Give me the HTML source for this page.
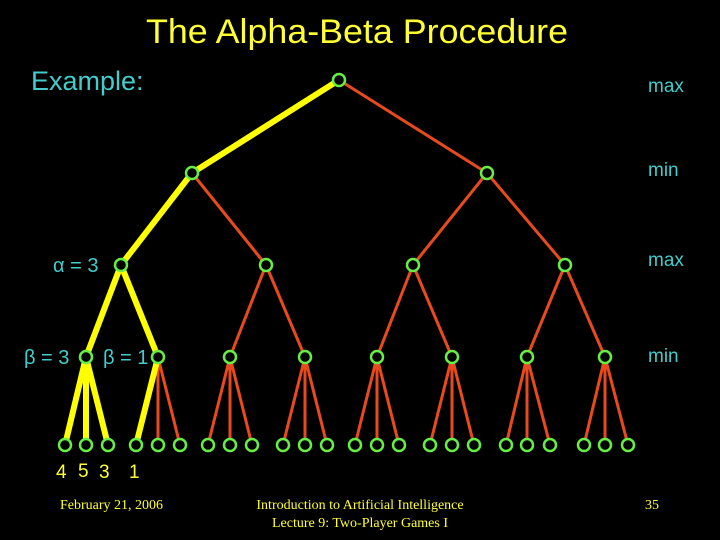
<!DOCTYPE html>
<html><head><meta charset="utf-8"><style>
html,body{margin:0;padding:0;background:#000;width:720px;height:540px;overflow:hidden}
svg{display:block}
text{font-family:"Liberation Sans",sans-serif}
</style></head><body>
<svg width="720" height="540" viewBox="0 0 720 540" xmlns="http://www.w3.org/2000/svg">
<rect width="720" height="540" fill="#000"/>
<text x="357" y="43" fill="#ffff33" font-size="34" text-anchor="middle" textLength="422" lengthAdjust="spacingAndGlyphs">The Alpha-Beta Procedure</text>
<text x="31" y="90" fill="#44cccc" font-size="27">Example:</text>
<g fill="#44cccc" font-size="19">
<text x="648" y="92">max</text>
<text x="648" y="176">min</text>
<text x="648" y="266">max</text>
<text x="648" y="362">min</text>
</g>
<g fill="#44cccc" font-size="20">
<text x="53" y="272">α = 3</text>
<text x="24" y="364">β = 3</text>
<text x="103" y="364">β = 1</text>
</g>
<g fill="#ffff33" font-size="19">
<text x="56" y="478">4</text><text x="78" y="477">5</text><text x="99" y="478">3</text><text x="129" y="478">1</text>
</g>
<g stroke="#e84a1e" stroke-width="3" fill="none">
<line x1="339" y1="80" x2="487" y2="173"/>
<line x1="192" y1="173" x2="266" y2="265"/>
<line x1="487" y1="173" x2="413" y2="265"/>
<line x1="487" y1="173" x2="565" y2="265"/>
<line x1="266" y1="265" x2="230" y2="357"/>
<line x1="266" y1="265" x2="305" y2="357"/>
<line x1="413" y1="265" x2="377" y2="357"/>
<line x1="413" y1="265" x2="452" y2="357"/>
<line x1="565" y1="265" x2="527" y2="357"/>
<line x1="565" y1="265" x2="605" y2="357"/>
<line x1="158" y1="357" x2="158" y2="445"/><line x1="158" y1="357" x2="180" y2="445"/>
<line x1="230" y1="357" x2="208" y2="445"/><line x1="230" y1="357" x2="230" y2="445"/><line x1="230" y1="357" x2="252" y2="445"/>
<line x1="305" y1="357" x2="283" y2="445"/><line x1="305" y1="357" x2="305" y2="445"/><line x1="305" y1="357" x2="327" y2="445"/>
<line x1="377" y1="357" x2="355" y2="445"/><line x1="377" y1="357" x2="377" y2="445"/><line x1="377" y1="357" x2="399" y2="445"/>
<line x1="452" y1="357" x2="430" y2="445"/><line x1="452" y1="357" x2="452" y2="445"/><line x1="452" y1="357" x2="474" y2="445"/>
<line x1="527" y1="357" x2="506" y2="445"/><line x1="527" y1="357" x2="527" y2="445"/><line x1="527" y1="357" x2="550" y2="445"/>
<line x1="605" y1="357" x2="584" y2="445"/><line x1="605" y1="357" x2="605" y2="445"/><line x1="605" y1="357" x2="628" y2="445"/>
</g>
<g stroke="#ffff00" stroke-width="6" fill="none">
<line x1="339" y1="80" x2="192" y2="173"/>
<line x1="192" y1="173" x2="121" y2="265"/>
<line x1="121" y1="265" x2="86" y2="357"/>
<line x1="121" y1="265" x2="158" y2="357"/>
<line x1="86" y1="357" x2="65" y2="445"/>
<line x1="86" y1="357" x2="86" y2="445"/>
<line x1="86" y1="357" x2="108" y2="445"/>
<line x1="158" y1="357" x2="136" y2="445"/>
</g>
<g stroke="#66ee44" stroke-width="2.5" fill="#000">
<circle cx="339" cy="80" r="6"/>
<circle cx="192" cy="173" r="6"/><circle cx="487" cy="173" r="6"/>
<circle cx="121" cy="265" r="6"/><circle cx="266" cy="265" r="6"/><circle cx="413" cy="265" r="6"/><circle cx="565" cy="265" r="6"/>
<circle cx="86" cy="357" r="6"/><circle cx="158" cy="357" r="6"/><circle cx="230" cy="357" r="6"/><circle cx="305" cy="357" r="6"/>
<circle cx="377" cy="357" r="6"/><circle cx="452" cy="357" r="6"/><circle cx="527" cy="357" r="6"/><circle cx="605" cy="357" r="6"/>
<circle cx="65" cy="445" r="6"/><circle cx="86" cy="445" r="6"/><circle cx="108" cy="445" r="6"/>
<circle cx="136" cy="445" r="6"/><circle cx="158" cy="445" r="6"/><circle cx="180" cy="445" r="6"/>
<circle cx="208" cy="445" r="6"/><circle cx="230" cy="445" r="6"/><circle cx="252" cy="445" r="6"/>
<circle cx="283" cy="445" r="6"/><circle cx="305" cy="445" r="6"/><circle cx="327" cy="445" r="6"/>
<circle cx="355" cy="445" r="6"/><circle cx="377" cy="445" r="6"/><circle cx="399" cy="445" r="6"/>
<circle cx="430" cy="445" r="6"/><circle cx="452" cy="445" r="6"/><circle cx="474" cy="445" r="6"/>
<circle cx="506" cy="445" r="6"/><circle cx="527" cy="445" r="6"/><circle cx="550" cy="445" r="6"/>
<circle cx="584" cy="445" r="6"/><circle cx="605" cy="445" r="6"/><circle cx="628" cy="445" r="6"/>
</g>
<g fill="#ffff33" font-size="14">
<text x="60" y="509" style="font-family:'Liberation Serif',serif">February 21, 2006</text>
<text x="360" y="509" text-anchor="middle" style="font-family:'Liberation Serif',serif">Introduction to Artificial Intelligence</text>
<text x="360" y="527" text-anchor="middle" style="font-family:'Liberation Serif',serif">Lecture 9: Two-Player Games I</text>
<text x="645" y="509" style="font-family:'Liberation Serif',serif">35</text>
</g>
</svg>
</body></html>
